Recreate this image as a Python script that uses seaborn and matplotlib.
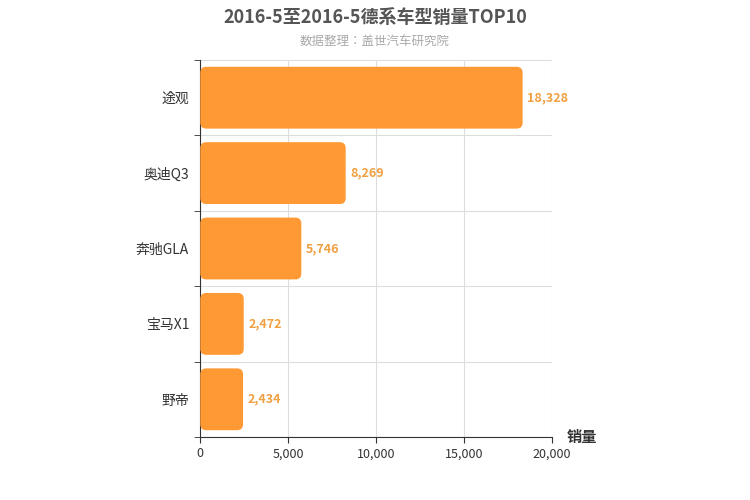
import matplotlib
matplotlib.use("Agg")
import matplotlib.pyplot as plt
from matplotlib import font_manager as fm
import seaborn as sns
import pandas as pd
from matplotlib.patches import FancyBboxPatch

cjk = None
for f in fm.findSystemFonts():
    if "CJK" in f or "cjk" in f.lower():
        try:
            fm.fontManager.addfont(f)
            name = fm.FontProperties(fname=f).get_name()
            if cjk is None or "SC" in name:
                cjk = name
        except Exception:
            pass
fams = [n for n in fm.fontManager.get_font_names() if "CJK" in n]
if cjk is None and fams:
    cjk = fams[0]
plt.rcParams["font.family"] = [cjk or "Noto Sans CJK SC", "DejaVu Sans"]
plt.rcParams["font.sans-serif"] = [cjk or "Noto Sans CJK SC", "DejaVu Sans"]

models = ["途观", "奥迪Q3", "奔驰GLA", "宝马X1", "野帝"]
sales = [18328, 8269, 5746, 2472, 2434]
xticks = [0, 5000, 10000, 15000, 20000]

df = pd.DataFrame({"model": models, "sales": sales})
fig = plt.figure(figsize=(7.5, 5), dpi=100)
ax = fig.add_axes([0.267, 0.126, 0.469, 0.754])
color = "#ff9933"
sns.barplot(data=df, y="model", x="sales", color=color, width=0.82, ax=ax, saturation=1)

ax.set_xlim(0, 20000)
ax.set_ylim(4.5, -0.5)
xpp = 20000 / 352
ypp = 5 / 377
for p in list(ax.patches):
    x, y, w, h = p.get_x(), p.get_y(), p.get_width(), p.get_height()
    p.remove()
    ax.add_patch(FancyBboxPatch((x, y), w, h,
                                boxstyle=f"round,pad=0,rounding_size={6 * xpp}",
                                mutation_aspect=ypp / xpp, fc=color, ec="none", zorder=3))
for i, v in enumerate(sales):
    ax.text(v + 250, i, f"{v:,}", va="center", ha="left", color="#f0a040", fontsize=9, fontweight="bold")

ax.set_xticks(xticks)
ax.set_xticklabels([f"{t:,}" for t in xticks], fontsize=9, color="#333")
ax.set_yticks(range(5))
ax.set_yticklabels(models, fontsize=10, color="#333")
ax.tick_params(axis="y", length=0, pad=8)
ax.tick_params(axis="x", length=4, color="#333")
ax.set_yticks([i - 0.5 for i in range(6)], minor=True)
ax.tick_params(axis="y", which="minor", length=4, color="#333")
ax.grid(axis="x", color="#dddddd", lw=0.8, zorder=0)
ax.grid(axis="y", which="minor", color="#dddddd", lw=0.8, zorder=0)
ax.grid(axis="y", which="major", visible=False)
ax.set_axisbelow(True)
for s in ["top", "right"]:
    ax.spines[s].set_visible(False)
ax.spines["left"].set_color("#333")
ax.spines["bottom"].set_color("#333")
ax.set_ylabel("")
ax.set_xlabel("")
fig.text(0.755, 0.11, "销量", fontsize=11, fontweight="bold", color="#333", ha="left", va="bottom")
fig.text(0.5, 0.965, "2016-5至2016-5德系车型销量TOP10", ha="center", va="center",
         fontsize=13, fontweight="bold", color="#555")
fig.text(0.5, 0.918, "数据整理：盖世汽车研究院", ha="center", va="center", fontsize=9, color="#aaa")
fig.savefig("out.png", dpi=100)
